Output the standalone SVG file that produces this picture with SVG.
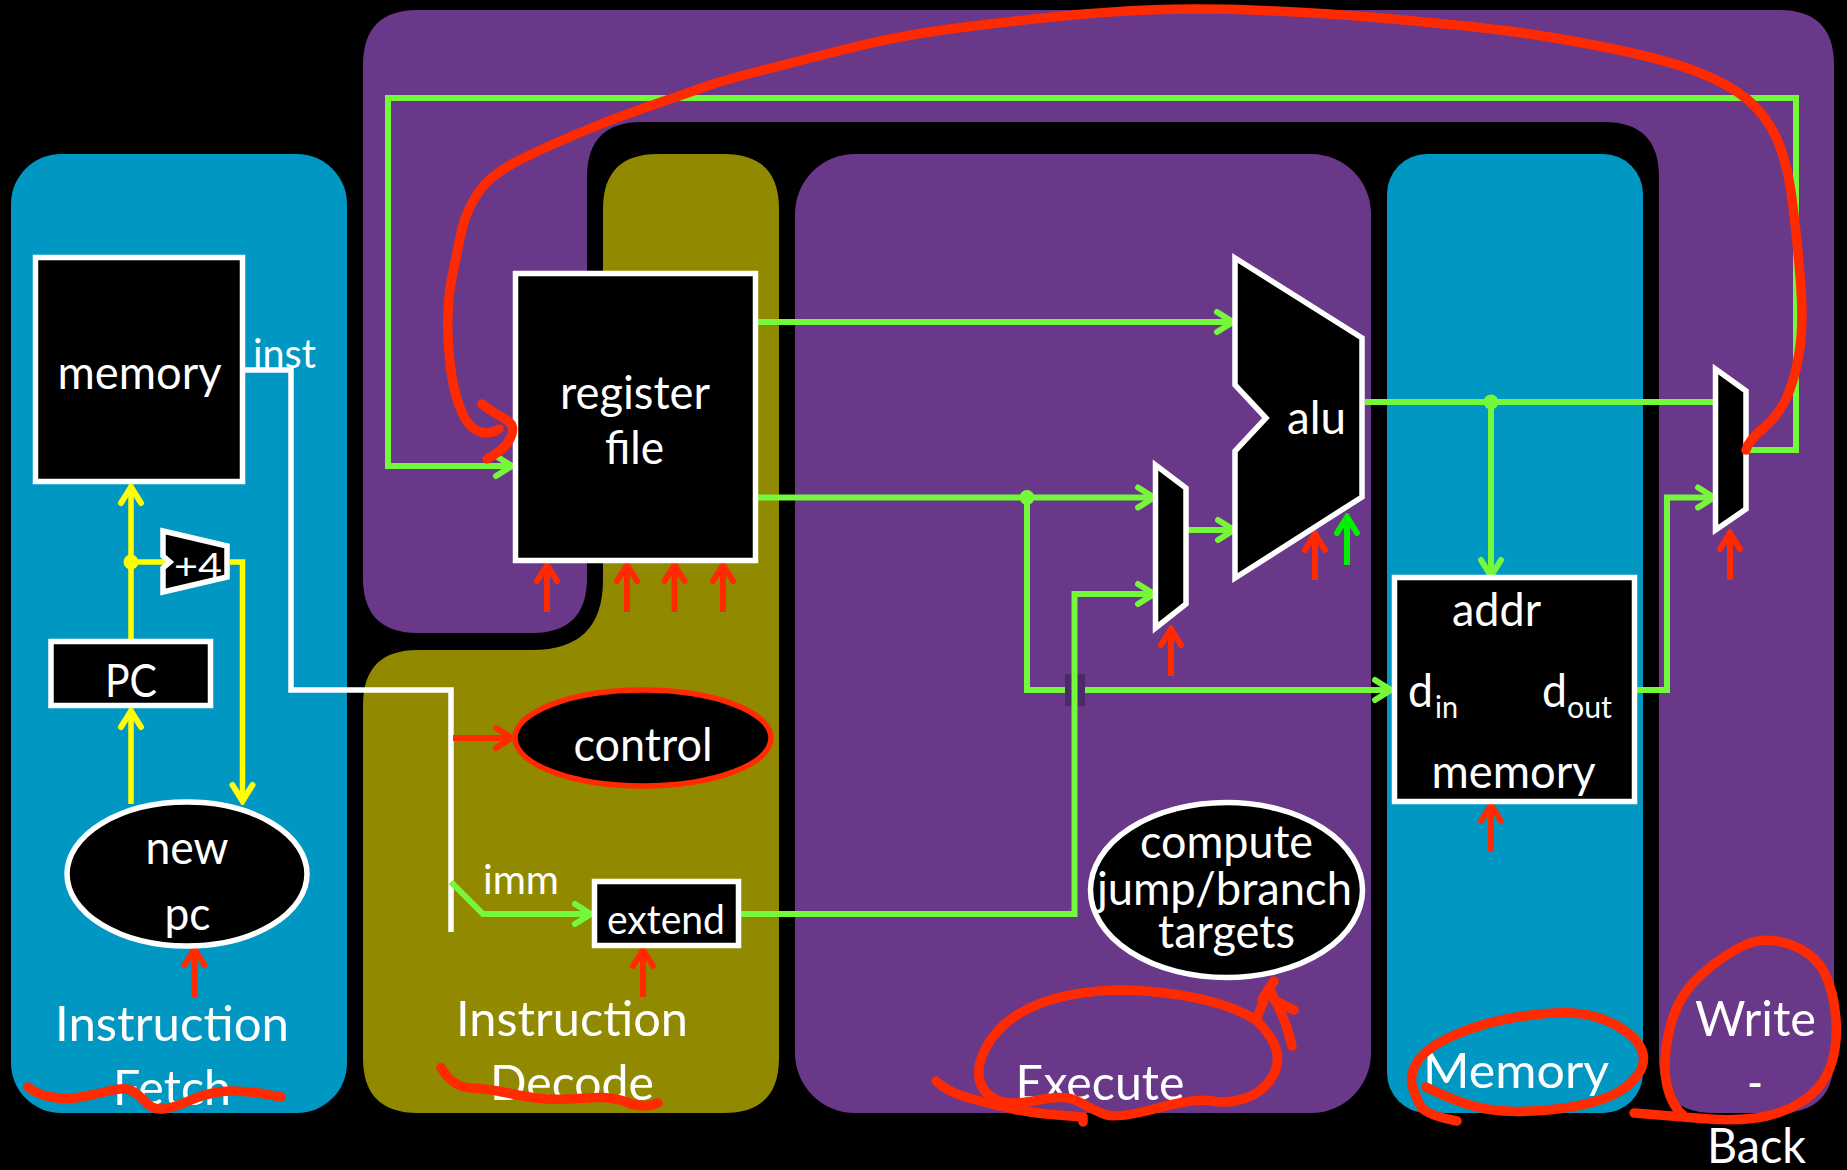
<svg xmlns="http://www.w3.org/2000/svg" width="1847" height="1170" viewBox="0 0 1847 1170">
<style>
text{font-family:"Lato","Open Sans","Liberation Sans",sans-serif;fill:#fff;font-size:46px}
.s30{font-size:31px}.s36{font-size:37px}.s40{font-size:40px}.s50{font-size:48px}
.box{fill:#000;stroke:#fff;stroke-width:5.500}
.w{fill:none;stroke:#fff;stroke-width:5.500}
.g{fill:none;stroke:#75f73a;stroke-width:6}
.y{fill:none;stroke:#ff0;stroke-width:5.500}
.r{fill:none;stroke:#ff2a00;stroke-width:6}
.l{fill:none;stroke:#00f000;stroke-width:6}
.ag{marker-end:url(#mg)}.ay{marker-end:url(#my)}.ar{marker-end:url(#mr)}.al{marker-end:url(#ml)}
.ink{fill:none;stroke:#ff2a00;stroke-width:9.500;stroke-linecap:round;stroke-linejoin:round}
</style>
<defs>
<marker id="mg" markerUnits="userSpaceOnUse" markerWidth="24" markerHeight="28" viewBox="0 0 24 28" refX="21" refY="14" orient="auto"><path d="M4,4 L20,14 L4,24" fill="none" stroke="#75f73a" stroke-width="6" stroke-linecap="round"/></marker>
<marker id="my" markerUnits="userSpaceOnUse" markerWidth="24" markerHeight="28" viewBox="0 0 24 28" refX="21" refY="14" orient="auto"><path d="M4,4 L20,14 L4,24" fill="none" stroke="#ff0" stroke-width="6" stroke-linecap="round"/></marker>
<marker id="mr" markerUnits="userSpaceOnUse" markerWidth="24" markerHeight="28" viewBox="0 0 24 28" refX="21" refY="14" orient="auto"><path d="M4,4 L20,14 L4,24" fill="none" stroke="#ff2a00" stroke-width="6" stroke-linecap="round"/></marker>
<marker id="ml" markerUnits="userSpaceOnUse" markerWidth="24" markerHeight="28" viewBox="0 0 24 28" refX="21" refY="14" orient="auto"><path d="M4,4 L20,14 L4,24" fill="none" stroke="#00f000" stroke-width="6" stroke-linecap="round"/></marker>
</defs>
<rect width="1847" height="1170" fill="#000"/>
<g id="panels">
<rect id="panel-if" x="11" y="154" width="336" height="959" rx="50" fill="#0097c3"/>
<path id="panel-wb" fill="#693889" d="M418,10 H1779 Q1834,10 1834,65 V1058 Q1834,1113 1779,1113 H1714 Q1659,1113 1659,1058 V177 Q1659,122 1604,122 H642 Q587,122 587,177 V578 Q587,633 532,633 H418 Q363,633 363,578 V65 Q363,10 418,10 Z"/>
<path id="panel-id" fill="#918a00" d="M658,154 H724 Q779,154 779,209 V1058 Q779,1113 724,1113 H418 Q363,1113 363,1058 V705 Q363,650 418,650 H532 Q603,650 603,580 V209 Q603,154 658,154 Z"/>
<rect id="panel-ex" x="795" y="154" width="576" height="959" rx="60" fill="#693889"/>
<rect id="panel-mem" x="1387" y="154" width="256" height="959" rx="40" fill="#0097c3"/>
</g>
<g id="connectors">
<path class="w" d="M245,370 H291 V690 H451 V932"/>
<path class="y ay" d="M131,639 V486"/>
<path class="y ay" d="M131,804 V710"/>
<path class="y" d="M131,562 H166"/>
<path class="y ay" d="M230,562 H242.500 V802"/>
<ellipse cx="131" cy="562" rx="7.500" ry="7.500" fill="#ff0"/>
<path class="r ar" d="M453,738 H513"/>
<path class="g ag" d="M451,882 L483,914 H592"/>
<path class="g ag" d="M758,322 H1234"/>
<path class="g ag" d="M758,497.500 H1155"/>
<circle cx="1027" cy="497.500" r="7.500" fill="#75f73a"/>
<path class="g ag" d="M1027,497.500 V690 H1392"/>
<rect x="1065" y="674" width="20" height="32" fill="#4a2a6a"/>
<path class="g ag" d="M741,914 H1074.500 V594 H1155"/>
<path class="g ag" d="M1188,530 H1235"/>
<path class="g" d="M1365,402 H1717"/>
<circle cx="1491" cy="402" r="7.500" fill="#75f73a"/>
<path class="g ag" d="M1491,402 V577"/>
<path class="g ag" d="M1637,690 H1667 V497.500 H1715"/>
<path class="g ag" d="M1748,450 H1796 V98 H388 V466 H513"/>
<path class="r ar" d="M547,612 V564"/>
<path class="r ar" d="M627,612 V564"/>
<path class="r ar" d="M674.500,612 V564"/>
<path class="r ar" d="M723,612 V564"/>
<path class="r ar" d="M194.500,997 V948"/>
<path class="r ar" d="M643,997 V949"/>
<path class="r ar" d="M1171,676 V628"/>
<path class="r ar" d="M1315,580 V533"/>
<path class="l al" d="M1347,565 V516"/>
<path class="r ar" d="M1730,580 V532"/>
<path class="r ar" d="M1491,852 V804"/>
</g>
<g id="node-imem"><rect class="box" x="35.500" y="257.500" width="207" height="224"/><text x="57.500" y="389" textLength="164" lengthAdjust="spacingAndGlyphs">memory</text></g>
<g id="node-inst-label"><text class="s40" x="253" y="368" textLength="63" lengthAdjust="spacingAndGlyphs">inst</text></g>
<g id="node-plus4"><path class="box" d="M163,531 L227,546 V577 L163,592 V568 L170,562 L163,556 Z"/><text x="174" y="579" textLength="48" lengthAdjust="spacingAndGlyphs" class="s36">+4</text></g>
<g id="node-pc"><rect class="box" x="51" y="641.500" width="159.500" height="64"/><text x="105" y="697" textLength="52" lengthAdjust="spacingAndGlyphs">PC</text></g>
<g id="node-newpc"><ellipse class="box" cx="187" cy="874" rx="120" ry="72"/><text x="145.500" y="864" textLength="83" lengthAdjust="spacingAndGlyphs">new</text><text x="164.500" y="930" textLength="46" lengthAdjust="spacingAndGlyphs">pc</text></g>
<g id="node-regfile"><rect class="box" x="515.500" y="273.500" width="240" height="287"/><text x="560" y="409" textLength="150" lengthAdjust="spacingAndGlyphs">register</text><text x="605" y="464" textLength="59" lengthAdjust="spacingAndGlyphs">file</text></g>
<g id="node-control"><ellipse cx="643" cy="738" rx="128" ry="48" fill="#000" stroke="#ff2a00" stroke-width="5.500"/><text x="573.500" y="761" textLength="139" lengthAdjust="spacingAndGlyphs">control</text></g>
<g id="node-imm-label"><text class="s40" x="483" y="894" textLength="76" lengthAdjust="spacingAndGlyphs">imm</text></g>
<g id="node-extend"><rect class="box" x="594.500" y="881.500" width="144" height="64"/><text class="s40" x="607" y="934" textLength="118" lengthAdjust="spacingAndGlyphs">extend</text></g>
<g id="node-alu"><path class="box" d="M1235,258 L1362,338 V497 L1235,578 V451 L1266,418 L1235,385 Z"/><text x="1287" y="434" textLength="59" lengthAdjust="spacingAndGlyphs">alu</text></g>
<g id="node-mux1"><path class="box" d="M1155.500,465 L1186,488 V604 L1155.500,628 Z"/></g>
<g id="node-mux2"><path class="box" d="M1715.500,369 L1746,391 V509 L1715.500,530 Z"/></g>
<g id="node-dmem"><rect class="box" x="1394.500" y="577.500" width="240" height="224"/>
<text x="1452" y="626" textLength="89" lengthAdjust="spacingAndGlyphs">addr</text>
<text x="1408" y="707" textLength="25" lengthAdjust="spacingAndGlyphs">d</text><text class="s30" x="1435" y="718" textLength="23" lengthAdjust="spacingAndGlyphs">in</text>
<text x="1542" y="707" textLength="25" lengthAdjust="spacingAndGlyphs">d</text><text class="s30" x="1567" y="718" textLength="45" lengthAdjust="spacingAndGlyphs">out</text>
<text x="1431.500" y="788" textLength="164" lengthAdjust="spacingAndGlyphs">memory</text></g>
<g id="node-compute"><ellipse class="box" cx="1226.500" cy="890" rx="136" ry="87.500"/>
<text x="1140" y="858" textLength="173" lengthAdjust="spacingAndGlyphs">compute</text>
<text x="1097" y="905" textLength="255" lengthAdjust="spacingAndGlyphs">jump/branch</text>
<text x="1158" y="948" textLength="137" lengthAdjust="spacingAndGlyphs">targets</text></g>
<g id="stage-labels">
<text class="s50" x="55" y="1041" textLength="234" lengthAdjust="spacingAndGlyphs">Instruction</text>
<text class="s50" x="113" y="1105" textLength="118" lengthAdjust="spacingAndGlyphs">Fetch</text>
<text class="s50" x="456" y="1036" textLength="232" lengthAdjust="spacingAndGlyphs">Instruction</text>
<text class="s50" x="490" y="1100" textLength="164" lengthAdjust="spacingAndGlyphs">Decode</text>
<text class="s50" x="1015.500" y="1100" textLength="169" lengthAdjust="spacingAndGlyphs">Execute</text>
<text class="s50" x="1423" y="1088" textLength="186" lengthAdjust="spacingAndGlyphs">Memory</text>
<text class="s50" x="1695" y="1036" textLength="121" lengthAdjust="spacingAndGlyphs">Write</text>
<text class="s50" x="1747" y="1100" textLength="16" lengthAdjust="spacingAndGlyphs">-</text>
<text class="s50" x="1707" y="1163" textLength="99" lengthAdjust="spacingAndGlyphs">Back</text>
</g>
<g id="annotations">
<path class="ink" d="M499,429 Q492,434 483,432.500 Q474,431 468,423 Q462,415 457,399 Q452,383 449.500,358 Q447,333 448,312 Q449,291 453,272 Q457,253 460.500,235.500 Q464,218 472,203 Q480,188 491.500,178 Q503,168 524.500,157.500 Q546,147 579,133 Q612,119 645.500,107.500 Q679,96 701.500,88 Q724,80 752,73 Q780,66 838,51 Q896,36 950,29 Q1004,22 1055.500,16.750 Q1107,11.500 1154.500,9.750 Q1202,8 1263,10.500 Q1324,13 1392,19 Q1460,25 1504.500,30.500 Q1549,36 1606.500,47.500 Q1664,59 1696.500,71.500 Q1729,84 1747.500,99.500 Q1766,115 1776.500,138 Q1787,161 1792,199 Q1797,237 1800.500,281 Q1804,325 1799,354 Q1794,383 1785.500,400 Q1777,417 1763,428.500 Q1749,440 1746,450"/>
<path class="ink" d="M482,404 Q490,411 500,416 Q510,421 512,426 Q514,431 509.500,439.500 Q505,448 496,453.500 L487,459"/>
<path class="ink" d="M28,1087 Q36,1094 51,1097 Q66,1100 81.500,1097 Q97,1094 111,1090.500 Q125,1087 131.500,1090.500 Q138,1094 145.500,1102 Q153,1110 163,1109 Q173,1108 188.500,1101 Q204,1094 222,1091.500 Q240,1089 281,1097"/>
<path class="ink" d="M441,1067.500 Q452,1087 471,1088 Q490,1089 510.500,1093.500 Q531,1098 546,1099 Q561,1100 586.500,1098 Q612,1096 627.500,1102.500 Q643,1109 658,1103"/>
<path class="ink" d="M1256,1020 Q1215,994 1127,990 Q1060,990 1022,1012 Q990,1030 980,1062 Q974,1090 997.500,1100 Q1011,1106 1038.500,1100 Q1066,1094 1079.500,1102 Q1093,1110 1105,1114.500 Q1117,1119 1156,1108.500 Q1195,1098 1212,1101 Q1229,1104 1246,1098 Q1263,1092 1271.500,1078 Q1280,1064 1276.500,1050.500 Q1273,1037 1256,1020"/>
<path class="ink" d="M936,1081 Q947,1092 972.500,1099 Q998,1106 1015,1109.500 Q1032,1113 1057.500,1115 L1083,1117 V1122"/>
<path class="ink" d="M1256,1020 L1268,990 L1274,981 M1270,990 L1280,1010 Q1288,1028 1292,1046 M1262,1000 L1268,990 M1274,1000 L1294,1010"/>
<path class="ink" d="M1457,1121 Q1426,1115 1421,1106.500 Q1416,1098 1412.500,1086.500 Q1409,1075 1417.500,1061.500 Q1426,1048 1453.500,1035.500 Q1481,1023 1515,1017.500 Q1549,1012 1572.500,1013 Q1596,1014 1616.500,1025.500 Q1637,1037 1642,1050.500 Q1647,1064 1635.500,1078 Q1624,1092 1600,1100 Q1576,1108 1542,1110.500 Q1508,1113 1484,1108.500 Q1460,1104 1426,1087"/>
<path class="ink" d="M1634,1113 Q1685,1117 1708.500,1119 Q1732,1121 1756,1118 Q1780,1115 1800.500,1102.500 Q1821,1090 1829.500,1069 Q1838,1048 1836,1019.500 Q1834,991 1824,972 Q1814,953 1790,944.500 Q1766,936 1746,944.500 Q1726,953 1702,974 Q1678,995 1670,1027.500 Q1662,1060 1666.500,1083 Q1671,1106 1685,1117"/>
</g>
</svg>
